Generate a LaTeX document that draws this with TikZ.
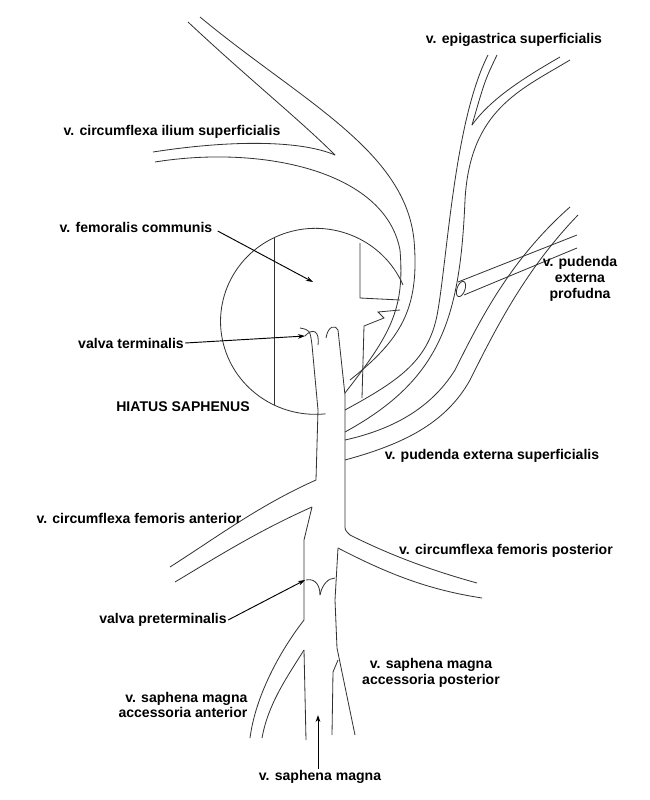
\documentclass[tikz,border=0pt]{standalone}
\usepackage{fontspec}
\setmainfont{Liberation Sans}
\usetikzlibrary{positioning}
\usetikzlibrary{arrows.meta}

\begin{document}
\begin{tikzpicture}[%
    x=0.03cm, y=-0.03cm,
    vein/.style={draw=black!80, line width=0.7pt},
    label/.style={font=\fontsize{12}{13.5}\selectfont\bfseries, align=center, inner sep=1pt},
    pointer/.style={-{Stealth[length=6pt,width=4pt]}, line width=0.8pt},
]
\useasboundingbox (0,0) rectangle (650,800);

% Hiatus saphenus
\draw[vein] (403,285) arc[start angle=-23, end angle=-276, x radius=95, y radius=93];
\draw[vein] (274,237) -- (274,405);
\draw[vein] (360,243) -- (360,298) -- (400,300);
\draw[vein] (400,310) -- (378,312) -- (384,318) -- (364,326) -- (362,398);

% trunk
\draw[vein] (300,328) .. controls (310,330) .. (312,345) -- (318,410) -- (316,480);
\draw[vein] (312,507) -- (304,540) -- (304,620) -- (298,628);
\draw[vein] (304,650) -- (306,740);
\draw[vein] (326,338) .. controls (328,325) and (336,325) .. (338,330) -- (345,395);
\draw[vein] (345,395) -- (345,525) .. controls (345,530) .. (350,535);
\draw[vein] (338,548) -- (335,600) -- (337,648) -- (355,735);
\draw[vein] (332,735) -- (333,672) -- (338,660);
% valves
\draw[vein] (305,336) .. controls (312,328) and (320,330) .. (318,345);
\draw[vein] (306,580) .. controls (315,578) and (320,585) .. (320,595);
\draw[vein] (320,595) .. controls (322,585) and (328,578) .. (335,578);

% v. circumflexa ilium superficialis
\draw[vein] (188,22) .. controls (250,80) and (300,120) .. (335,155);
\draw[vein] (200,17) .. controls (300,100) and (405,150) .. (414,240)
  .. controls (420,310) and (400,340) .. (350,380);
\draw[vein] (153,152) .. controls (230,140) and (300,140) .. (335,155);
\draw[vein] (155,162) .. controls (260,145) and (385,170) .. (400,250)
  .. controls (405,310) and (390,335) .. (345,393);

% v. epigastrica superficialis
\draw[vein] (488,55) .. controls (455,120) and (448,250) .. (438,310)
  .. controls (430,360) and (400,380) .. (345,410);
\draw[vein] (497,55) .. controls (485,80) .. (472,125);
\draw[vein] (560,57) .. controls (520,80) and (490,100) .. (472,125);
\draw[vein] (570,60) .. controls (520,90) and (470,110) .. (465,200)
  .. controls (460,320) and (440,380) .. (345,432);

% v. pudenda externa profunda
\draw[vein] (577,235) -- (458,282);
\draw[vein] (577,248) -- (464,295);
\draw[vein] (461,289) ellipse[x radius=4, y radius=8, rotate=-20];

% v. pudenda externa superficialis
\draw[vein] (570,207) .. controls (510,260) and (480,320) .. (455,370)
  .. controls (430,410) and (390,430) .. (345,440);
\draw[vein] (578,215) .. controls (525,270) and (495,330) .. (470,380)
  .. controls (445,425) and (400,445) .. (345,460);

% v. circumflexa femoris anterior
\draw[vein] (316,480) .. controls (260,505) and (220,535) .. (170,567);
\draw[vein] (312,507) .. controls (260,530) and (220,555) .. (175,582);

% v. circumflexa femoris posterior
\draw[vein] (350,535) .. controls (390,555) and (430,570) .. (477,583);
\draw[vein] (338,548) .. controls (390,575) and (430,590) .. (482,598);

% v. saphena magna accessoria anterior
\draw[vein] (298,628) .. controls (275,660) and (255,700) .. (250,738);
\draw[vein] (304,650) .. controls (285,680) and (268,705) .. (262,738);

% Labels
\node[label] (epigastrica) at (514,40) {v. epigastrica superficialis};
\node[label] (ilium) at (172,132) {v. circumflexa ilium superficialis};
\node[label] (femoralis) at (136,227) {v. femoralis communis};
\node[label] (profunda) at (580,279) {v. pudenda\\ externa\\ profudna};
\node[label] (terminalis) at (131,343) {valva terminalis};
\node[label] (hiatus) at (183,407) {HIATUS SAPHENUS};
\node[label] (pudsup) at (492,456) {v. pudenda externa superficialis};
\node[label] (femant) at (139,518) {v. circumflexa femoris anterior};
\node[label] (fempost) at (506,551) {v. circumflexa femoris posterior};
\node[label] (preterminalis) at (163,620) {valva preterminalis};
\node[label, align=right] (accant) at (183,705) {v. saphena magna\\ accessoria anterior};
\node[label, align=center] (accpost) at (431,673) {v. saphena magna\\ accessoria posterior};
\node[label] (magna) at (320,777) {v. saphena magna};

% Pointers
\coordinate (femoralisend) at (313,282);
\coordinate (terminalisend) at (305,336);
\coordinate (preterminalisend) at (305,580);
\coordinate (magnaend) at (318,715);
\draw[pointer] (femoralis.east) ++(4,4) -- (femoralisend);
\draw[pointer] (terminalis.east) -- (terminalisend);
\draw[pointer] (preterminalis.east) -- (preterminalisend);
\draw[pointer] (magna.north -| magnaend) -- (magnaend);

\end{tikzpicture}
\end{document}
